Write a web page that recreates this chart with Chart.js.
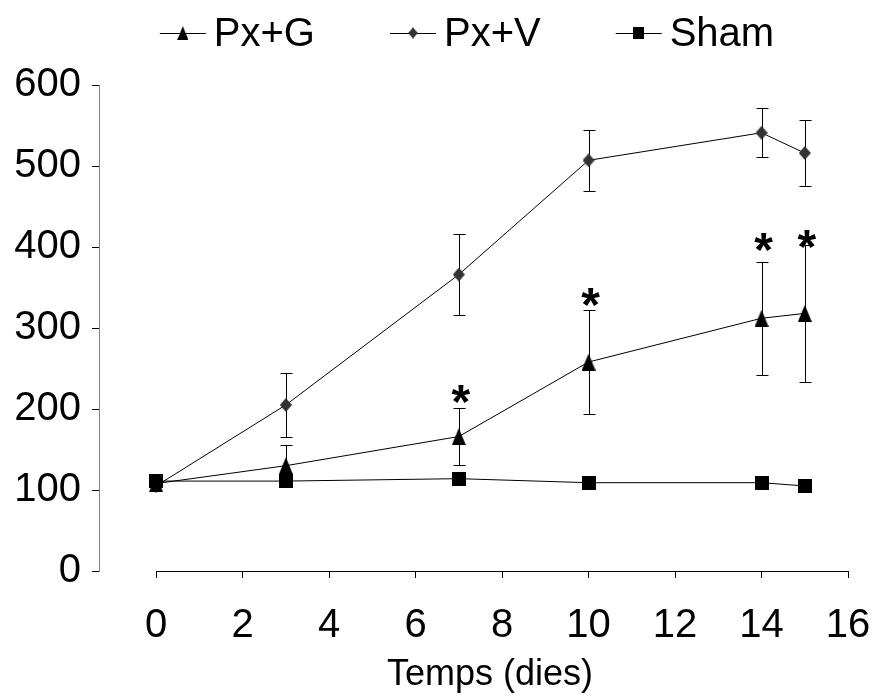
<!DOCTYPE html>
<html>
<head>
<meta charset="utf-8">
<script src="https://cdn.jsdelivr.net/npm/chart.js@4.4.0/dist/chart.umd.min.js"></script>
<style>
  body { margin: 0; background: #fff; }
  #wrap { width: 890px; height: 697px; }
</style>
</head>
<body>
<div id="wrap"><canvas id="chart"></canvas></div>
<script>
// Data
const days = [0, 3, 7, 10, 14, 15];
const pxG = [108, 130, 166, 258, 312, 318];
const pxGErr = [0, 25, 35, 64, 70, 85];
const pxV = [105, 205, 366, 507, 541, 516];
const pxVErr = [0, 40, 50, 38, 30, 41];
const sham = [111, 111, 114, 109, 109, 105];
const stars = [null, null, 222, 342, 410, 414]; // height of the * marks over Px+G
const xTicks = [0, 2, 4, 6, 8, 10, 12, 14, 16];
const seriesNames = ['Px+G', 'Px+V', 'Sham'];
const xTitle = 'Temps (dies)';

const FONT = '"Liberation Sans", Arial, sans-serif';

// marker images (Excel style)
function makeMarker(shape, color) {
    const c = document.createElement('canvas');
    const ctx = c.getContext('2d');
    if (shape === 'triangle') { c.width = 14; c.height = 17; }
    if (shape === 'diamond') { c.width = 12; c.height = 14; }
    if (shape === 'square') { c.width = 14; c.height = 14; }
    ctx.fillStyle = color;
    ctx.beginPath();
    if (shape === 'triangle') {
        ctx.moveTo(7, 0); ctx.lineTo(14, 17); ctx.lineTo(0, 17);
    } else if (shape === 'diamond') {
        ctx.moveTo(6, 0); ctx.lineTo(12, 7); ctx.lineTo(6, 14); ctx.lineTo(0, 7);
    } else {
        ctx.rect(0, 0, 14, 14);
    }
    ctx.closePath();
    ctx.fill();
    return c;
}

const markers = [
    makeMarker('triangle', '#000'),
    makeMarker('diamond', '#333'),
    makeMarker('square', '#000')
];

function toPoints(ys) {
    return days.map((d, i) => ({ x: d, y: ys[i] }));
}

// error bars, x axis line, stars, axis title and legend
const extras = {
    id: 'extras',
    beforeDatasetsDraw(chart) {
        const ctx = chart.ctx;
        const xs = chart.scales.x, ys = chart.scales.y;
        ctx.save();
        ctx.strokeStyle = '#000';
        ctx.lineWidth = 1;
        // x axis line only runs from 0 to 16
        const yb = Math.round(chart.chartArea.bottom) + 0.5;
        ctx.beginPath();
        ctx.moveTo(xs.getPixelForValue(0), yb);
        ctx.lineTo(xs.getPixelForValue(16), yb);
        ctx.stroke();

        chart.data.datasets.forEach(ds => {
            if (!ds.errors) return;
            ds.data.forEach((p, i) => {
                const e = ds.errors[i];
                if (!e) return;
                const x = Math.round(xs.getPixelForValue(p.x)) + 0.5;
                const top = Math.round(ys.getPixelForValue(p.y + e)) + 0.5;
                const bot = Math.round(ys.getPixelForValue(p.y - e)) + 0.5;
                ctx.beginPath();
                ctx.moveTo(x, top); ctx.lineTo(x, bot);
                ctx.moveTo(x - 6, top); ctx.lineTo(x + 6, top);
                ctx.moveTo(x - 6, bot); ctx.lineTo(x + 6, bot);
                ctx.stroke();
            });
        });
        ctx.restore();
    },
    afterDraw(chart) {
        const ctx = chart.ctx;
        const xs = chart.scales.x, ys = chart.scales.y;
        ctx.save();
        ctx.fillStyle = '#000';

        // significance stars
        ctx.font = 'bold 48px ' + FONT;
        ctx.textAlign = 'center';
        ctx.textBaseline = 'alphabetic';
        stars.forEach((s, i) => {
            if (s === null) return;
            ctx.fillText('*', xs.getPixelForValue(days[i]) + 2, ys.getPixelForValue(s) + 27);
        });

        // x axis title (sits a bit right of centre in the original)
        ctx.font = '36px ' + FONT;
        ctx.textBaseline = 'middle';
        ctx.fillText(xTitle, 490, 675);

        // legend: line with marker, then the name
        ctx.font = '40px ' + FONT;
        ctx.textAlign = 'left';
        const lineLen = 46, gapText = 8, gapItem = 75, legY = 33;
        const widths = seriesNames.map(n => lineLen + gapText + ctx.measureText(n).width);
        const total = widths.reduce((a, b) => a + b, 0) + gapItem * (seriesNames.length - 1);
        let x = 467 - total / 2;
        seriesNames.forEach((n, i) => {
            ctx.strokeStyle = '#000';
            ctx.lineWidth = 1;
            ctx.beginPath();
            ctx.moveTo(x, legY + 0.5); ctx.lineTo(x + lineLen, legY + 0.5);
            ctx.stroke();
            const m = markers[i];
            const w = m.width * 0.8, h = m.height * 0.8;
            ctx.drawImage(m, x + lineLen / 2 - w / 2, legY - h / 2, w, h);
            ctx.fillText(n, x + lineLen + gapText, legY + 2);
            x += widths[i] + gapItem;
        });
        ctx.restore();
    }
};

new Chart(document.getElementById('chart'), {
    type: 'line',
    data: {
        datasets: [
            { label: seriesNames[0], data: toPoints(pxG), errors: pxGErr, pointStyle: markers[0], order: 1 },
            { label: seriesNames[1], data: toPoints(pxV), errors: pxVErr, pointStyle: markers[1], order: 2 },
            { label: seriesNames[2], data: toPoints(sham), pointStyle: markers[2], order: 0 }
        ].map(ds => Object.assign({
            borderColor: '#000',
            borderWidth: 1,
            backgroundColor: '#000',
            pointRadius: 7,
            tension: 0,
            fill: false
        }, ds))
    },
    options: {
        responsive: true,
        maintainAspectRatio: false,
        animation: false,
        events: [],
        layout: { padding: { top: 85, right: 42, left: 0, bottom: 0 } },
        plugins: {
            legend: { display: false },
            tooltip: { enabled: false }
        },
        scales: {
            x: {
                type: 'linear',
                min: -1.32,
                max: 16,
                afterBuildTicks: s => { s.ticks = xTicks.map(v => ({ value: v })); },
                afterFit: s => { s.height = 126; s.paddingLeft = 0; s.paddingRight = 0; },
                grid: { drawOnChartArea: false, drawTicks: true, tickLength: 7, color: '#000' },
                border: { display: false },
                ticks: {
                    font: { family: FONT, size: 40 },
                    color: '#000',
                    padding: 24,
                    maxRotation: 0,
                    autoSkip: false
                }
            },
            y: {
                min: 0,
                max: 600,
                afterFit: s => { s.width = 99; s.paddingTop = 0; s.paddingBottom = 0; },
                grid: { drawOnChartArea: false, drawTicks: true, tickLength: 7, color: '#000' },
                border: { display: true, color: '#808080', width: 1 },
                ticks: {
                    stepSize: 100,
                    font: { family: FONT, size: 40 },
                    color: '#000',
                    padding: 11
                }
            }
        }
    },
    plugins: [extras]
});
</script>
</body>
</html>
